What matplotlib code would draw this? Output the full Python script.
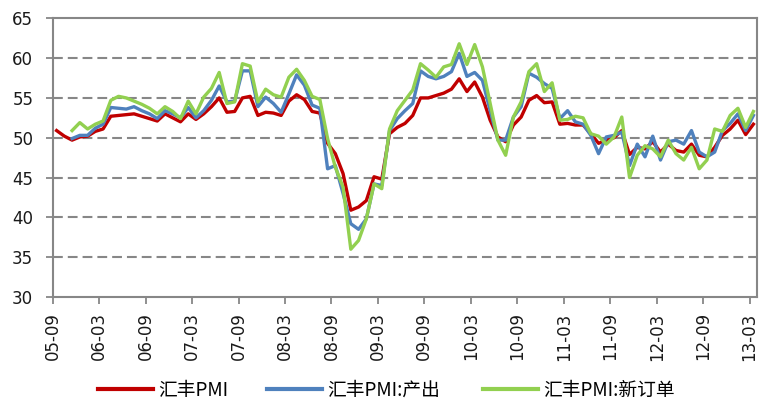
import numpy as np
import matplotlib
matplotlib.use("Agg")
import matplotlib.pyplot as plt
from matplotlib.lines import Line2D

months = [f"{y:02d}-{m:02d}" for y in range(5, 14) for m in range(1, 13)]
months = months[months.index("05-09"):months.index("13-03") + 1]
tick_labels = ["05-09", "06-03", "06-09", "07-03", "07-09", "08-03", "08-09", "09-03",
               "09-09", "10-03", "10-09", "11-03", "11-09", "12-03", "12-09", "13-03"]

pmi = [50.9, 50.2, 49.7, 50.1, 50.2, 50.8, 51.1, 52.7, 52.8, 52.9,
       53.0, 52.7, 52.4, 52.1, 53.0, 52.5, 52.0, 53.0, 52.3, 53.0,
       53.9, 55.0, 53.2, 53.3, 55.0, 55.2, 52.8, 53.2, 53.1, 52.8,
       54.6, 55.4, 54.8, 53.3, 53.1, 49.3, 48.0, 45.5, 40.9, 41.3,
       42.1, 45.1, 44.8, 50.5, 51.3, 51.8, 52.8, 55.0, 55.0, 55.3,
       55.6, 56.1, 57.4, 55.8, 57.0, 55.1, 52.2, 50.1, 49.5, 51.6,
       52.6, 54.7, 55.3, 54.4, 54.5, 51.7, 51.8, 51.6, 51.6, 50.5,
       49.3, 49.7, 50.0, 50.9, 47.9, 48.8, 48.6, 49.5, 48.2, 49.2,
       48.4, 48.2, 49.2, 47.8, 47.6, 48.8, 50.3, 51.1, 52.2, 50.4,
       51.7]

output = [None, None, 49.9, 50.3, 50.3, 51.2, 51.7, 53.8, 53.7, 53.6,
          53.9, 53.4, 53.0, 52.4, 53.4, 53.0, 52.5, 53.8, 52.5, 53.4,
          54.7, 56.5, 54.5, 54.6, 58.4, 58.4, 53.9, 55.1, 54.3, 53.2,
          55.5, 57.9, 56.6, 54.1, 53.7, 46.1, 46.5, 43.0, 39.2, 38.5,
          39.8, 44.2, 44.0, 50.9, 52.4, 53.4, 54.3, 58.4, 57.7, 57.4,
          57.7, 58.3, 60.6, 57.7, 58.2, 57.2, 53.4, 49.7, 49.7, 52.6,
          53.9, 58.1, 57.6, 56.8, 56.2, 52.4, 53.4, 52.0, 51.7, 50.3,
          48.0, 50.1, 50.3, 50.7, 46.5, 49.2, 47.6, 50.2, 47.2, 49.5,
          49.7, 49.2, 50.9, 48.2, 47.6, 48.2, 50.9, 51.8, 53.0, 50.9,
          52.8]

new_orders = [None, None, 50.9, 51.9, 51.1, 51.7, 52.1, 54.7, 55.2, 55.0,
              54.6, 54.2, 53.7, 53.0, 53.9, 53.3, 52.4, 54.6, 53.0, 55.1,
              56.2, 58.2, 54.3, 54.5, 59.3, 59.0, 54.5, 56.1, 55.4, 55.1,
              57.6, 58.6, 57.2, 55.2, 54.8, 49.9, 46.3, 43.8, 36.0, 37.1,
              39.8, 44.2, 43.6, 51.1, 53.4, 54.7, 56.0, 59.3, 58.5, 57.6,
              58.9, 59.2, 61.8, 59.2, 61.7, 58.9, 54.3, 49.7, 47.8, 52.6,
              54.5, 58.3, 59.3, 55.8, 56.9, 52.2, 52.3, 52.7, 52.5, 50.5,
              50.2, 49.2, 50.1, 52.6, 45.0, 47.8, 49.0, 48.6, 47.6, 49.7,
              48.0, 47.2, 48.8, 46.1, 47.2, 51.1, 50.8, 52.8, 53.7, 51.3,
              53.3]

series_names = ["汇丰PMI", "汇丰PMI:产出", "汇丰PMI:新订单"]
colors = ["#C00000", "#4F81BD", "#92D050"]

def arr(v):
    return np.array([np.nan if a is None else a for a in v], dtype=float)

W, H = 771, 405
fig = plt.figure(figsize=(W / 100, H / 100), dpi=100)
ax = fig.add_axes([0.0684, 0.2667, 0.9138, 0.6881])

x = np.arange(len(months)) + 0.5
for vals, c in zip([pmi, output, new_orders], colors):
    ax.plot(x, arr(vals), color=c, lw=2.4, solid_joinstyle="round", zorder=3)

ax.set_xlim(0, len(months))
ax.set_ylim(30, 65)
ax.set_yticks(np.arange(30, 66, 5))
tick_pos = [months.index(t) for t in tick_labels]
ax.set_xticks(tick_pos)
ax.set_xticklabels(tick_labels, rotation=90, fontsize=12, color="#1a1a1a", family="DejaVu Sans")
for lab in ax.get_yticklabels():
    lab.set_fontsize(12)
    lab.set_color("#1a1a1a")
    lab.set_family("DejaVu Sans")

gc = "#878787"
for yv in range(35, 65, 5):
    ax.axhline(yv, color=gc, lw=1.5, ls=(0, (4.7, 2.4)), zorder=1)
for s in ax.spines.values():
    s.set_color(gc)
    s.set_linewidth(1.5)
ax.tick_params(axis="both", direction="out", length=5, width=1.3, color=gc)
ax.tick_params(axis="y", pad=9)
ax.tick_params(axis="x", pad=6)

# legend entries, one per series, placed like the original
leg_x = [98, 267, 483]
leg_y = 1 - 390.5 / H
for name, c, lx in zip(series_names, colors, leg_x):
    h = Line2D([0], [0], color=c, lw=3)
    fig.legend([h], [name], loc="center left", bbox_to_anchor=(lx / W, leg_y),
               frameon=False, borderpad=0, borderaxespad=0,
               prop={"family": ["Noto Sans CJK SC", "DejaVu Sans"], "size": 13.5},
               handlelength=2.95, handletextpad=0.28)

fig.savefig("out.png", dpi=100)
